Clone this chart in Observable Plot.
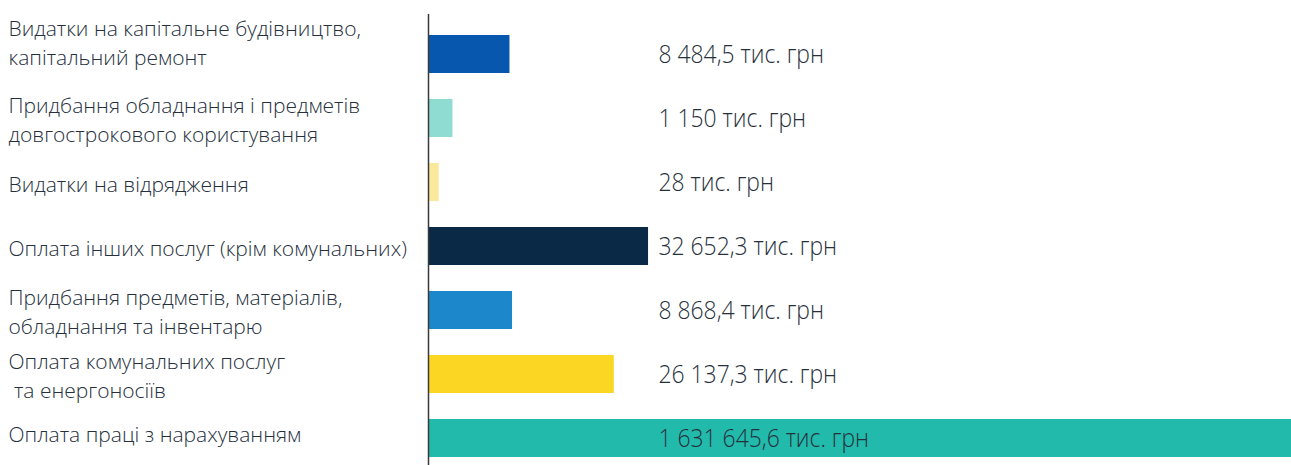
<!DOCTYPE html>
<html>
<head>
<meta charset="utf-8">
<script src="https://cdn.jsdelivr.net/npm/d3@7"></script>
<script src="https://cdn.jsdelivr.net/npm/@observablehq/plot@0.6"></script>
<style>
  html, body { margin: 0; padding: 0; background: #fff; overflow: hidden; }
  #chart svg { display: block; overflow: hidden; }
</style>
</head>
<body>
<div id="chart"></div>
<script>
const categories = [
  "Видатки на капітальне будівництво,\nкапітальний ремонт",
  "Придбання обладнання і предметів\nдовгострокового користування",
  "Видатки на відрядження",
  "Оплата інших послуг (крім комунальних)",
  "Придбання предметів, матеріалів,\nобладнання та інвентарю",
  "Оплата комунальних послуг\n та енергоносіїв",
  "Оплата праці з нарахуванням"
];
const values = [8484.5, 1150, 28, 32652.3, 8868.4, 26137.3, 1631645.6];
const valueLabels = [
  "8 484,5 тис. грн",
  "1 150 тис. грн",
  "28 тис. грн",
  "32 652,3 тис. грн",
  "8 868,4 тис. грн",
  "26 137,3 тис. грн",
  "1 631 645,6 тис. грн"
];
const palette = ["#0657ad", "#8edcd2", "#fbe99b", "#0a2946", "#1d87cb", "#fbd724", "#22bbab"];

const data = categories.map((c, i) => ({category: c, value: values[i], label: valueLabels[i], idx: i}));

const font = "'Open Sans', 'Noto Sans', sans-serif";
const textColor = "#26303d";
const labelOpts = {y: "category", text: "category", frameAnchor: "left", dx: -420, textAnchor: "start",
  fontSize: 21, fontWeight: 300, lineHeight: 1.37, fill: textColor};

const chart = Plot.plot({
  width: 1291,
  height: 465,
  marginLeft: 428,
  marginRight: 0,
  marginTop: 14,
  marginBottom: 0,
  style: {fontFamily: font, background: "#fff"},
  // the reference is not drawn to scale: the largest bar is cut at the right edge
  x: {type: "pow", exponent: 0.8, domain: [0, 191000], clamp: true, axis: null},
  y: {domain: categories, axis: null, paddingInner: 0.4, paddingOuter: 0.177, align: 0.72},
  color: {domain: categories, range: palette},
  marks: [
    // every bar has a small minimum stub, as in the infographic
    Plot.barX(data, {y: "category", x: "value", fill: "category", insetRight: -10}),
    Plot.ruleX([0], {stroke: "#3a3a3a", strokeWidth: 1.5}),
    Plot.text(data.filter(d => d.idx === 0), {...labelOpts, dy: -13}),
    Plot.text(data.filter(d => d.idx > 0 && d.idx < 6), labelOpts),
    Plot.text(data.filter(d => d.idx === 6), {...labelOpts, dy: -6}),
    Plot.text(data, {y: "category", text: "label", frameAnchor: "left", dx: 230, textAnchor: "start",
      fontSize: 25, fontWeight: 300, fill: textColor, className: "val"})
  ]
});
// the original typeface is narrow: compress the value labels' glyphs horizontally
d3.select(chart).selectAll(".val text").each(function() {
  const t = this.getAttribute("transform");
  this.setAttribute("transform", (t ? t + " " : "") + "scale(0.915,1)");
});
document.getElementById("chart").appendChild(chart);
</script>
</body>
</html>
